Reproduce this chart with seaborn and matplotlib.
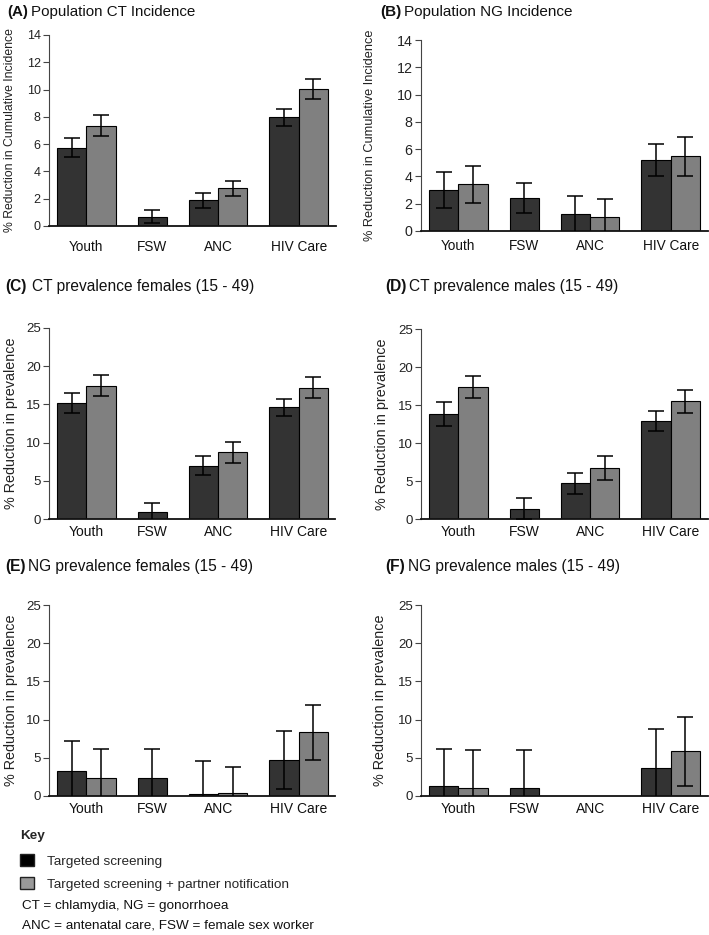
import numpy as np
import pandas as pd
import matplotlib
matplotlib.use("Agg")
import matplotlib.pyplot as plt
import seaborn as sns
from matplotlib.patches import Patch

# ---------------- data ----------------
groups = ["Youth", "FSW", "ANC", "HIV Care"]
strategies = ["Targeted screening", "Targeted screening + partner notification"]
# bar slots (group, strategy index); FSW only has targeted screening
bar_slots = [("Youth", 0), ("Youth", 1), ("FSW", 0), ("ANC", 0), ("ANC", 1),
             ("HIV Care", 0), ("HIV Care", 1)]

a_val = [5.72, 7.36, 0.66, 1.88, 2.76, 7.97, 10.05]
a_lo = [5.04, 6.63, 0.22, 1.34, 2.18, 7.33, 9.34]
a_hi = [6.43, 8.12, 1.16, 2.40, 3.33, 8.58, 10.78]

b_val = [3.01, 3.42, 2.39, 1.21, 1.03, 5.23, 5.47]
b_lo = [1.66, 2.07, 1.31, -0.14, -0.27, 4.05, 4.05]
b_hi = [4.36, 4.74, 3.50, 2.56, 2.33, 6.38, 6.87]

c_val = [15.12, 17.40, 0.96, 6.99, 8.74, 14.60, 17.18]
c_lo = [13.85, 16.04, -0.22, 5.73, 7.30, 13.46, 15.82]
c_hi = [16.43, 18.79, 2.14, 8.22, 10.14, 15.69, 18.53]

d_val = [13.84, 17.38, 1.36, 4.68, 6.70, 12.92, 15.54]
d_lo = [12.30, 15.98, -0.05, 3.28, 5.17, 11.56, 13.97]
d_hi = [15.37, 18.78, 2.71, 6.09, 8.23, 14.27, 17.03]

e_val = [3.32, 2.32, 2.32, 0.31, 0.44, 4.76, 8.35]
e_lo = [-0.62, -1.52, -1.52, -3.97, -2.88, 0.87, 4.72]
e_hi = [7.26, 6.16, 6.16, 4.59, 3.76, 8.57, 11.89]

f_val = [1.27, 1.09, 1.09, np.nan, np.nan, 3.71, 5.90]
f_lo = [-3.67, -3.81, -3.81, np.nan, np.nan, -1.41, 1.31]
f_hi = [6.21, 5.99, 5.99, np.nan, np.nan, 8.83, 10.40]

titles = ["Population CT Incidence", "Population NG Incidence",
          "CT prevalence females (15 - 49)", "CT prevalence males (15 - 49)",
          "NG prevalence females (15 - 49)", "NG prevalence males (15 - 49)"]
ylabels = ["% Reduction in Cumulative Incidence", "% Reduction in Cumulative Incidence",
           "% Reduction in prevalence", "% Reduction in prevalence",
           "% Reduction in prevalence", "% Reduction in prevalence"]
footnotes = ["CT = chlamydia, NG = gonorrhoea",
             "ANC = antenatal care, FSW = female sex worker"]

# ---------------- style ----------------
W, H = 709, 935
sns.set_theme(style="ticks")
plt.rcParams["font.family"] = ["Liberation Sans", "DejaVu Sans"]
NARROW = ["Liberation Sans Narrow", "Liberation Sans", "DejaVu Sans"]
DARK, LIGHT = "#333333", "#808080"

fig = plt.figure(figsize=(W / 100, H / 100), dpi=100)

# bar positions computed from the group structure (bar width 1, group gap 0.75)
GAP = 0.75
positions, centers = [], {}
x = 0.0
for g in groups:
    n = sum(1 for s in bar_slots if s[0] == g)
    ps = [x + i + 0.5 for i in range(n)]
    positions += ps
    centers[g] = x + n / 2
    x += n + GAP

def px_axes(l, r, t, b):
    return fig.add_axes([l / W, 1 - b / H, (r - l) / W, (b - t) / H])

panels = [
    dict(rect=(49, 336, 35, 226), val=a_val, lo=a_lo, hi=a_hi, ymax=14, step=2,
         tsize=10.9, tfam=["Liberation Sans"], tx=7, ty=12, tgap=3,
         ylx=10, ylsize=8.8, xsize=9.8, xpad=10, ysize=9),
    dict(rect=(421, 708, 40, 231), val=b_val, lo=b_lo, hi=b_hi, ymax=14, step=2,
         tsize=11, tfam=["Liberation Sans"], tx=380, ty=12, tgap=3,
         ylx=370, ylsize=9.2, xsize=9.8, xpad=6, ysize=10.3),
    dict(rect=(49, 335, 328, 519), val=c_val, lo=c_lo, hi=c_hi, ymax=25, step=5,
         tsize=11.2, tfam=NARROW, tx=5, ty=286, tgap=6,
         ylx=11, ylsize=10.4, xsize=10, xpad=4, ysize=9.5),
    dict(rect=(421, 708, 329, 519), val=d_val, lo=d_lo, hi=d_hi, ymax=25, step=5,
         tsize=11.2, tfam=NARROW, tx=385, ty=286, tgap=3,
         ylx=382, ylsize=10.4, xsize=10, xpad=4, ysize=9.5),
    dict(rect=(49, 335, 605, 796), val=e_val, lo=e_lo, hi=e_hi, ymax=25, step=5,
         tsize=11.2, tfam=NARROW, tx=5, ty=566, tgap=3,
         ylx=11, ylsize=10.4, xsize=10, xpad=4, ysize=9.5),
    dict(rect=(421, 708, 605, 796), val=f_val, lo=f_lo, hi=f_hi, ymax=25, step=5,
         tsize=11.2, tfam=NARROW, tx=385, ty=566, tgap=3,
         ylx=380, ylsize=10.4, xsize=10, xpad=4, ysize=9.5),
]

letters = "ABCDEF"
renderer = fig.canvas.get_renderer()
for i, p in enumerate(panels):
    ax = px_axes(*p["rect"])
    df = pd.DataFrame({
        "pos": positions,
        "value": p["val"],
        "strategy": [strategies[s] for _, s in bar_slots],
    })
    sns.barplot(data=df, x="pos", y="value", hue="strategy", hue_order=strategies,
                palette=[DARK, LIGHT], native_scale=True, width=1.0, dodge=False,
                errorbar=None, edgecolor="black", linewidth=0.8, legend=False, ax=ax)
    v = np.array(p["val"], float)
    lo = np.array(p["lo"], float)
    hi = np.array(p["hi"], float)
    ax.errorbar(positions, v, yerr=[v - lo, hi - v], fmt="none", ecolor="black",
                elinewidth=1.1, capsize=5.5, capthick=1.1, zorder=5)

    l, r, t, b = p["rect"]
    unit = (328 - 57) / 9.25
    ax.set_xlim(-8 / unit, (r - l - 8) / unit)
    ax.set_ylim(0, p["ymax"])
    ax.set_yticks(np.arange(0, p["ymax"] + 0.1, p["step"]))
    ax.set_xticks([centers[g] for g in groups])
    ax.set_xticklabels(groups, fontsize=p["xsize"], color="#111111")
    ax.tick_params(axis="x", length=0, pad=p["xpad"])
    ax.tick_params(axis="y", length=4, width=0.8, color="#444444",
                   labelsize=p["ysize"], labelcolor="#222222", pad=2)
    ax.set_xlabel("")
    ax.set_ylabel(ylabels[i], fontsize=p["ylsize"], color="#222222",
                  va="center", ha="center")
    ax.yaxis.set_label_coords((p["ylx"] - l) / (r - l), 0.5)
    sns.despine(ax=ax)
    ax.spines["left"].set_color("#444444")
    ax.spines["left"].set_linewidth(0.8)
    ax.spines["bottom"].set_color("#111111")
    ax.spines["bottom"].set_linewidth(1.3)

    t1 = fig.text(p["tx"] / W, 1 - p["ty"] / H, f"({letters[i]})", fontweight="bold",
                  fontsize=p["tsize"], family=p["tfam"], va="center", ha="left",
                  color="#111111")
    bb = t1.get_window_extent(renderer)
    fig.text((bb.x1 + p["tgap"]) / W, 1 - p["ty"] / H, titles[i],
             fontsize=p["tsize"], family=p["tfam"], va="center", ha="left",
             color="#111111")

# key
handles = [Patch(facecolor="#000000", edgecolor="#222222", label=strategies[0]),
           Patch(facecolor="#9a9a9a", edgecolor="#222222", label=strategies[1])]
leg = fig.legend(handles=handles, title="Key", loc="upper left",
                 bbox_to_anchor=(17 / W, 1 - 827 / H), frameon=False,
                 fontsize=9.7, title_fontproperties={"weight": "bold", "size": 9.7},
                 handlelength=1.05, handleheight=1.0, handletextpad=1.0,
                 labelspacing=0.7, borderpad=0.2, borderaxespad=0)
leg._legend_box.align = "left"
leg._legend_box.sep = 9
for ft, yy in zip(footnotes, [906, 926]):
    fig.text(22 / W, 1 - yy / H, ft, fontsize=9.7, va="center", ha="left",
             color="#111111")

fig.savefig("out.png", dpi=100)
